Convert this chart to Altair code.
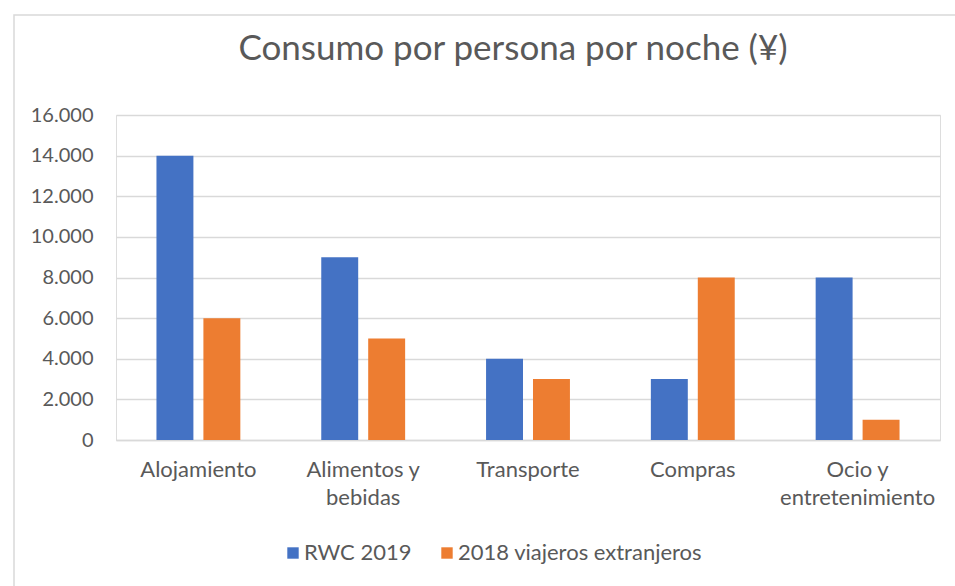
import altair as alt
import pandas as pd

categories = ["Alojamiento", "Alimentos y bebidas", "Transporte", "Compras", "Ocio y entretenimiento"]
series = ["RWC 2019", "2018 viajeros extranjeros"]
rwc_2019 = [14000, 9000, 4000, 3000, 8000]
viajeros_2018 = [6000, 5000, 3000, 8000, 1000]
y_ticks = [0, 2000, 4000, 6000, 8000, 10000, 12000, 14000, 16000]

rows = []
for c, a, b in zip(categories, rwc_2019, viajeros_2018):
    rows.append({"categoria": c, "serie": series[0], "valor": a})
    rows.append({"categoria": c, "serie": series[1], "valor": b})
df = pd.DataFrame(rows)

FONT = "Lato"
GRAY = "#595959"

label_expr = ("datum.value == 'Alimentos y bebidas' ? ['Alimentos y', 'bebidas'] : "
              "datum.value == 'Ocio y entretenimiento' ? ['Ocio y', 'entretenimiento'] : datum.label")

bars = alt.Chart(df).mark_bar().encode(
    x=alt.X("categoria:N", sort=categories, title=None,
            scale=alt.Scale(paddingInner=0, paddingOuter=0),
            axis=alt.Axis(labelAngle=0, labelExpr=label_expr, ticks=False, grid=False,
                          domainColor="#d9d9d9", domainWidth=1.5,
                          labelFont=FONT, labelFontSize=22, labelColor=GRAY,
                          labelPadding=19, labelLineHeight=28, labelBaseline="top",
                          labelLimit=0)),
    xOffset=alt.XOffset("serie:N", sort=series,
                        scale=alt.Scale(paddingInner=0.213, paddingOuter=0.862)),
    y=alt.Y("valor:Q", title=None,
            scale=alt.Scale(domain=[0, 16000]),
            axis=alt.Axis(values=y_ticks, domain=False, ticks=False,
                          labelExpr="replace(format(datum.value, ','), ',', '.')",
                          gridColor="#d9d9d9", gridWidth=1.5,
                          labelFont=FONT, labelFontSize=20, labelColor=GRAY,
                          labelPadding=23)),
    color=alt.Color("serie:N", sort=series, title=None,
                    scale=alt.Scale(domain=series, range=["#4472C4", "#ED7D31"]),
                    legend=alt.Legend(orient="none", legendX=166, legendY=427,
                                      direction="horizontal", symbolType="square",
                                      symbolSize=130, symbolStrokeWidth=0,
                                      labelFont=FONT, labelFontSize=22, labelColor=GRAY,
                                      labelOffset=0, columnPadding=24, labelLimit=0)),
)

frame_df = pd.DataFrame({"k": [0]})
frame = alt.Chart(frame_df).mark_rect(fill=None, stroke="#d9d9d9", strokeWidth=1.5).encode(
    x=alt.value(-102), x2=alt.value(900), y=alt.value(-100), y2=alt.value(520)
)

chart = alt.layer(frame, bars).properties(
    width=824, height=325,
    padding={"left": 116, "top": 115, "right": 15, "bottom": 146},
    autosize=alt.AutoSizeParams(type="none"),
    title=alt.TitleParams("Consumo por persona por noche (¥)", font=FONT, fontSize=35,
                          fontWeight="normal", color=GRAY, anchor="middle", dx=-15,
                          baseline="alphabetic", offset=-81),
).configure_view(strokeWidth=0, stroke="transparent").configure(background="white")

chart.save("out.html", embed_options={"renderer": "svg", "actions": False})
